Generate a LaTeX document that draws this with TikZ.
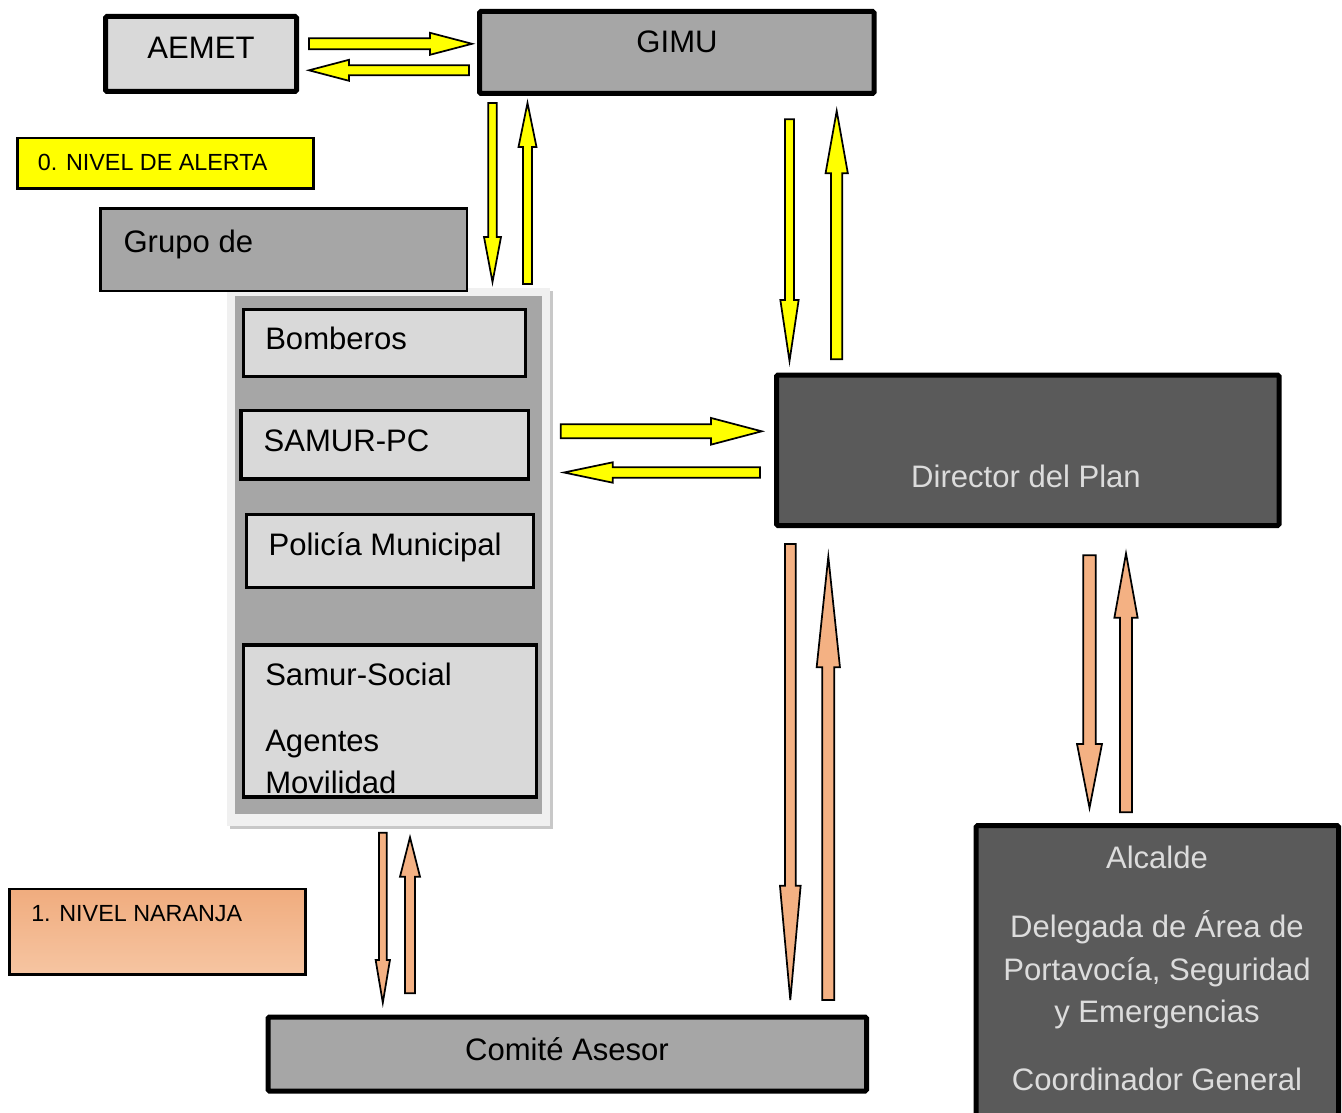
\documentclass[tikz,border=0pt]{standalone}
\usepackage{fontspec}
\setmainfont{Liberation Sans}
\usetikzlibrary{fit}
\definecolor{lgrey}{HTML}{D9D9D9}
\definecolor{mgrey}{HTML}{A6A6A6}
\definecolor{dgrey}{HTML}{5A5A5A}
\definecolor{ylw}{HTML}{FFFF00}
\definecolor{orng}{HTML}{F4B183}
\definecolor{orngtop}{HTML}{F0AC7E}
\definecolor{orngbot}{HTML}{F6C5A2}
\definecolor{txtl}{HTML}{DCDCDC}
\definecolor{panelc}{HTML}{F0F0F0}
\definecolor{shadowc}{HTML}{C8C8C8}
\newcommand\bigf{\fontsize{23.3pt}{28pt}\selectfont}
\newcommand\smallf{\fontsize{17.5pt}{21pt}\selectfont}
\newcommand\blockarrow[7]{%
  \draw[arrowline,fill=#7,shift={(#1)},rotate=#2]
    (0,{-#4/2}) -- ({#3-#6},{-#4/2}) -- ({#3-#6},{-#5/2}) -- (#3,0)
    -- ({#3-#6},{#5/2}) -- ({#3-#6},{#4/2}) -- (0,{#4/2}) -- cycle;}
\tikzset{
  thickbox/.style={draw=black, line width=3.75pt, inner sep=0pt, rounded corners=1pt},
  thinbox/.style={draw=black, line width=1.9pt, inner sep=0pt},
  innerbox/.style={draw=black, line width=2.6pt, fill=lgrey, inner sep=0pt},
  flatbox/.style={inner sep=0pt},
  arrowline/.style={draw=black, line width=1.3pt, line join=miter},
  lbl/.style={inner sep=0pt, font=\bigf, text=black},
  lbllight/.style={inner sep=0pt, font=\bigf, text=txtl},
  lblsmall/.style={inner sep=0pt, font=\smallf, text=black},
}
\begin{document}
\begin{tikzpicture}[x=0.75pt,y=-0.75pt]
\useasboundingbox (0,0) rectangle (1342,1113);
\fill[white] (0,0) rectangle (1342,1113);
\clip (0,0) rectangle (1342,1113);

% --- boxes
\node[thickbox, fill=lgrey, fit={(105.5,16.5) (296.5,91.5)}] (aemet) {};
\node[thickbox, fill=mgrey, fit={(479.5,11.5) (874,93.5)}] (gimu) {};
\node[thinbox, fill=ylw, fit={(17.3,138) (313.7,188.7)}] (alerta) {};

% panel
\node[flatbox, fill=shadowc, fit={(230,291) (553,829.4)}] (panelshadow) {};
\node[flatbox, fill=panelc, fit={(226.7,287.9) (550,826.4)}] (panel) {};
\node[flatbox, fill=mgrey, fit={(235,296) (541.7,814)}] (panelinner) {};

\node[thinbox, fill=mgrey, fit={(100.3,208.6) (467,291)}] (grupo) {};

\node[innerbox, fit={(243.4,309.6) (525.6,376.5)}] (bomberos) {};
\node[innerbox, fit={(241,410.3) (528.3,479)}] (samurpc) {};
\node[innerbox, fit={(246.7,514.6) (533.6,587.3)}] (policia) {};
\node[innerbox, fit={(243.4,645) (536.6,797.2)}] (social) {};

\node[thickbox, fill=dgrey, fit={(776.5,375) (1279,525.5)}] (director) {};
\node[thickbox, fill=mgrey, fit={(268,1017) (866.5,1091)}] (comite) {};
\node[thickbox, fill=dgrey, fit={(976,825.7) (1338.5,1140)}] (alcalde) {};
\node[thinbox, top color=orngtop, bottom color=orngbot, fit={(9.3,889) (305.4,974.7)}] (naranja) {};

% --- texts
\node[lbl, anchor=base] (tAemet) at (201,58.3) {AEMET};
\node[lbl, anchor=base] (tGimu) at (677,53) {GIMU};
\node[lblsmall, anchor=base west] (tAlerta) at (37.7,170.7) {0. NIVEL DE ALERTA};
\node[lbl, anchor=base west] (tGrupo) at (123.3,252.3) {Grupo de};
\node[lbl, anchor=base west] (tBomberos) at (265,349.6) {Bomberos};
\node[lbl, anchor=base west] (tSamurpc) at (263.3,451.4) {SAMUR-PC};
\node[lbl, anchor=base west] (tPolicia) at (268.3,555) {Policía Municipal};
\node[lbl, anchor=base west] (tSocial) at (265,685.4) {Samur-Social};
\node[lbl, anchor=base west] (tAgentes) at (265,751.4) {Agentes};
\node[lbl, anchor=base west] (tMovilidad) at (265,793.6) {Movilidad};
\node[lbllight, anchor=base] (tDirector) at (1026,487) {Director del Plan};
\node[lbl, anchor=base] (tComite) at (567,1060) {Comité Asesor};
\node[lblsmall, anchor=base west] (tNaranja) at (31,921.7) {1. NIVEL NARANJA};
\node[lbllight, anchor=base] (tAlcalde) at (1157,868) {Alcalde};
\node[lbllight, anchor=base] (tDelegada) at (1157,937.6) {Delegada de Área de};
\node[lbllight, anchor=base] (tPortavocia) at (1157,980) {Portavocía, Seguridad};
\node[lbllight, anchor=base] (tEmerg) at (1157,1022.5) {y Emergencias};
\node[lbllight, anchor=base] (tCoord) at (1157,1090) {Coordinador General};

% --- arrow start points
\coordinate (aAemetGimu) at (309,43.8);
\coordinate (aGimuAemet) at (469,70.3);
\coordinate (aGimuGrupo) at (492.5,103);
\coordinate (aGrupoGimu) at (527.5,284);
\coordinate (aGimuDir) at (789.5,119.3);
\coordinate (aDirGimu) at (836.7,359.3);
\coordinate (aGrupoDir) at (560.7,431.3);
\coordinate (aDirGrupo) at (760,472.5);
\coordinate (aDirComite) at (790.3,544);
\coordinate (aComiteDir) at (828.3,1000);
\coordinate (aGrupoComite) at (382.8,832.7);
\coordinate (aComiteGrupo) at (410,993.3);
\coordinate (aDirAlc) at (1089.5,555.3);
\coordinate (aAlcDir) at (1126,812.2);

% --- block arrows: start, angle, length, shaft, head width, head length, colour
\blockarrow{aAemetGimu}{0}{163}{11}{22}{42}{ylw}
\blockarrow{aGimuAemet}{180}{160}{10}{21}{40}{ylw}
\blockarrow{aGimuGrupo}{-90}{179}{8.5}{17}{45}{ylw}
\blockarrow{aGrupoGimu}{90}{181}{9}{18}{44}{ylw}
\blockarrow{aGimuDir}{-90}{241.7}{9}{18.3}{61}{ylw}
\blockarrow{aDirGimu}{90}{248.3}{11.3}{22.3}{62.3}{ylw}
\blockarrow{aGrupoDir}{0}{201}{14}{26.7}{50.7}{ylw}
\blockarrow{aDirGrupo}{180}{196}{10.4}{20.4}{48.7}{ylw}
\blockarrow{aDirComite}{-90}{456}{10.7}{20.7}{114.3}{orng}
\blockarrow{aComiteDir}{90}{443.3}{12}{23.3}{110.6}{orng}
\blockarrow{aGrupoComite}{-90}{170}{7.7}{14.3}{42.7}{orng}
\blockarrow{aComiteGrupo}{90}{156}{10}{20}{39.4}{orng}
\blockarrow{aDirAlc}{-90}{252.6}{12.3}{25}{64}{orng}
\blockarrow{aAlcDir}{90}{258.7}{12}{23.3}{64.3}{orng}
\end{tikzpicture}
\end{document}
